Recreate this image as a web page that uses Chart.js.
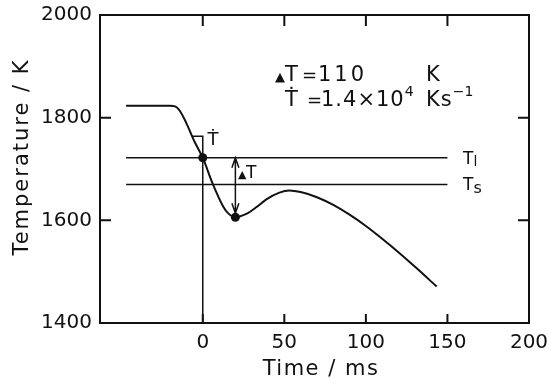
<!DOCTYPE html>
<html>
<head>
<meta charset="utf-8">
<script src="https://cdn.jsdelivr.net/npm/chart.js@4.4.1/dist/chart.umd.min.js"></script>
<style>
  html, body { margin: 0; padding: 0; background: #fff; }
  #wrap { width: 547px; height: 378px; }
</style>
</head>
<body>
<div id="wrap"><canvas id="myChart" width="547" height="378"></canvas></div>
<script>
// cooling curve
const timeMs = [-47, -20, -17, -14, -10, -5, 0, 6, 12.5, 15.5, 20, 27, 33, 39, 47, 53, 60, 70, 80, 90, 100, 110, 121, 131, 143.4];
const tempK = [1823, 1823, 1822, 1813, 1789, 1753, 1722, 1672, 1627, 1614, 1606, 1613, 1626, 1641, 1654, 1658, 1655, 1645, 1630, 1611, 1589, 1564, 1535, 1507, 1471];

// liquidus / solidus lines
const liquidusK = 1722;
const solidusK = 1670;
const levelStart = -47;
const levelEnd = 150;

// marked points (dT start and minimum)
const dotTime = [0, 20];
const dotTemp = [1722, 1606];

// slope marker (horizontal + vertical drop at t = 0)
const slopeX = [-6.5, 0, 0];
const slopeY = [1764, 1764, 1400];

// ticks
const xTicks = [0, 50, 100, 150, 200];
const yTicks = [1400, 1600, 1800, 2000];
const xInnerTicks = [0, 50, 100, 150];
const yInnerTicks = [1600, 1800];

const FONT = "'DejaVu Sans', sans-serif";
const INK = "#111";

function pts(xs, ys) {
    return xs.map((x, i) => ({ x: x, y: ys[i] }));
}

// draws pieces of text one after the other (for superscripts etc.)
function drawPieces(ctx, x, y, pieces) {
    let cx = x;
    pieces.forEach((p) => {
        ctx.font = p.size + "px " + FONT;
        ctx.letterSpacing = (p.ls || 0) + "px";
        if (p.x !== undefined) cx = p.x;
        ctx.fillText(p.t, cx, y + (p.dy || 0));
        cx += ctx.measureText(p.t).width;
    });
    ctx.letterSpacing = "0px";
}

const extras = {
    id: "extras",
    afterDatasetsDraw(chart) {
        const ctx = chart.ctx;
        const a = chart.chartArea;
        const xs = chart.scales.x;
        const ys = chart.scales.y;
        ctx.save();
        ctx.strokeStyle = INK;
        ctx.fillStyle = INK;

        // frame
        ctx.lineWidth = 2;
        ctx.strokeRect(a.left, a.top, a.right - a.left, a.bottom - a.top);

        // inward ticks
        ctx.beginPath();
        yInnerTicks.forEach((v) => {
            const py = ys.getPixelForValue(v);
            ctx.moveTo(a.left, py); ctx.lineTo(a.left + 11, py);
            ctx.moveTo(a.right, py); ctx.lineTo(a.right - 11, py);
        });
        xInnerTicks.forEach((v) => {
            const px = xs.getPixelForValue(v);
            ctx.moveTo(px, a.top); ctx.lineTo(px, a.top + 11);
            ctx.moveTo(px, a.bottom); ctx.lineTo(px, a.bottom - 9);
        });
        ctx.stroke();

        // dT double arrow
        const ax = xs.getPixelForValue(dotTime[1]);
        const ay1 = ys.getPixelForValue(dotTemp[0]);
        const ay2 = ys.getPixelForValue(dotTemp[1]) - 4;
        ctx.lineWidth = 1.5;
        ctx.beginPath();
        ctx.moveTo(ax, ay1); ctx.lineTo(ax, ay2);
        ctx.moveTo(ax - 3.5, ay1 + 10); ctx.lineTo(ax, ay1); ctx.lineTo(ax + 3.5, ay1 + 10);
        ctx.moveTo(ax - 3.5, ay2 - 10); ctx.lineTo(ax, ay2); ctx.lineTo(ax + 3.5, ay2 - 10);
        ctx.stroke();

        ctx.textAlign = "left";
        ctx.textBaseline = "alphabetic";

        // labels on the chart
        drawPieces(ctx, 238, 178, [{ t: "▲", size: 11 }, { t: "T", size: 17, x: 246 }]);
        ctx.textAlign = "center";
        drawPieces(ctx, 213, 145, [{ t: "Ṫ", size: 18 }]);
        ctx.textAlign = "left";

        const tlY = ys.getPixelForValue(liquidusK);
        const tsY = ys.getPixelForValue(solidusK);
        drawPieces(ctx, 463, tlY + 6, [{ t: "T", size: 17 }, { t: "l", size: 14, dy: 2 }]);
        drawPieces(ctx, 463, tsY + 6, [{ t: "T", size: 17 }, { t: "s", size: 16, dy: 3 }]);

        // result block
        drawPieces(ctx, 275, 81, [
            { t: "▲", size: 13 },
            { t: "T", size: 21, x: 285 },
            { t: "=", size: 18, x: 302 },
            { t: "110", size: 21, x: 318, ls: 3 },
            { t: "K", size: 21, x: 426 },
        ]);
        drawPieces(ctx, 285, 106, [
            { t: "Ṫ", size: 21 },
            { t: "=", size: 18, x: 307 },
            { t: "1.4×10", size: 21, x: 321, ls: 1 },
            { t: "4", size: 14, dy: -10 },
            { t: "Ks", size: 21, x: 426, ls: 1 },
            { t: "−1", size: 14, dy: -10 },
        ]);

        // axis titles
        ctx.fillStyle = INK;
        ctx.textAlign = "center";
        ctx.font = "21px " + FONT;
        ctx.letterSpacing = "1.5px";
        ctx.fillText("Time / ms", 321, 375);
        ctx.save();
        ctx.translate(28, 157);
        ctx.rotate(-Math.PI / 2);
        ctx.letterSpacing = "2px";
        ctx.fillText("Temperature / K", 0, 0);
        ctx.restore();

        ctx.restore();
    },
};

const chartInstance = new Chart(document.querySelector("#myChart"), {
    type: "line",
    data: {
        datasets: [
            {
                data: pts(timeMs, tempK),
                borderColor: INK,
                borderWidth: 2,
                pointRadius: 0,
                cubicInterpolationMode: "monotone",
            },
            {
                data: pts([levelStart, levelEnd], [liquidusK, liquidusK]),
                borderColor: INK,
                borderWidth: 1.5,
                pointRadius: 0,
            },
            {
                data: pts([levelStart, levelEnd], [solidusK, solidusK]),
                borderColor: INK,
                borderWidth: 1.5,
                pointRadius: 0,
            },
            {
                data: pts(slopeX, slopeY),
                borderColor: INK,
                borderWidth: 1.5,
                pointRadius: 0,
            },
            {
                data: pts(dotTime, dotTemp),
                showLine: false,
                pointRadius: 4.5,
                pointBackgroundColor: INK,
                pointBorderColor: INK,
                pointBorderWidth: 0,
            },
        ],
    },
    options: {
        responsive: false,
        animation: false,
        devicePixelRatio: 1,
        layout: { padding: { top: 15, right: 18, left: 0, bottom: 0 } },
        plugins: { legend: { display: false }, tooltip: { enabled: false } },
        scales: {
            x: {
                type: "linear",
                min: -63,
                max: 200,
                afterBuildTicks: (s) => { s.ticks = xTicks.map((v) => ({ value: v })); },
                afterFit: (s) => {
                    s.height = 55;
                    s.paddingLeft = 0;
                    s.paddingRight = 0;
                },
                grid: { display: false, drawTicks: false },
                border: { display: false },
                ticks: { color: INK, font: { family: FONT, size: 20 }, padding: 8, maxRotation: 0 },
            },
            y: {
                type: "linear",
                min: 1400,
                max: 2000,
                afterBuildTicks: (s) => { s.ticks = yTicks.map((v) => ({ value: v })); },
                afterFit: (s) => {
                    s.width = 100;
                    s.paddingTop = 0;
                    s.paddingBottom = 0;
                },
                grid: { display: false, drawTicks: false },
                border: { display: false },
                ticks: {
                    color: INK,
                    font: { family: FONT, size: 20 },
                    padding: 8,
                    callback: (v) => String(v),
                },
            },
        },
    },
    plugins: [extras],
});
</script>
</body>
</html>
